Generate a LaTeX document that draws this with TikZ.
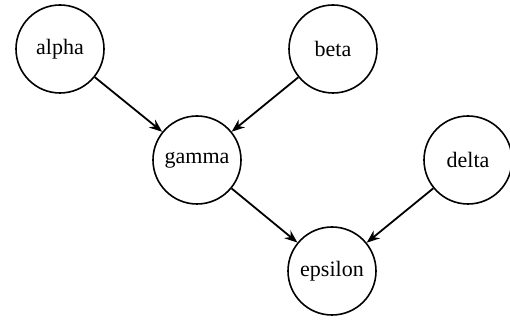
\documentclass[tikz,border=0pt]{standalone}
\usepackage{fontspec}
\setmainfont{Liberation Serif}
\usetikzlibrary{arrows.meta}
\begin{document}
\begin{tikzpicture}[x=1pt,y=1pt,
  vert/.style={draw, circle, line width=1.6pt, minimum size=88pt, inner sep=0pt, font=\fontsize{22}{24}\selectfont},
  edge/.style={-{Stealth[length=13pt,width=10pt]}, line width=1.8pt}]
\useasboundingbox (0,0) rectangle (510,320);
\node[vert] (alpha) at (60,271) {alpha};
\node[vert] (beta) at (333,271) {beta};
\node[vert] (gamma) at (197,160) {gamma};
\node[vert] (delta) at (468,160) {delta};
\node[vert] (epsilon) at (332,49) {epsilon};
\draw[edge] (alpha) -- (gamma);
\draw[edge] (beta) -- (gamma);
\draw[edge] (gamma) -- (epsilon);
\draw[edge] (delta) -- (epsilon);
\end{tikzpicture}
\end{document}
